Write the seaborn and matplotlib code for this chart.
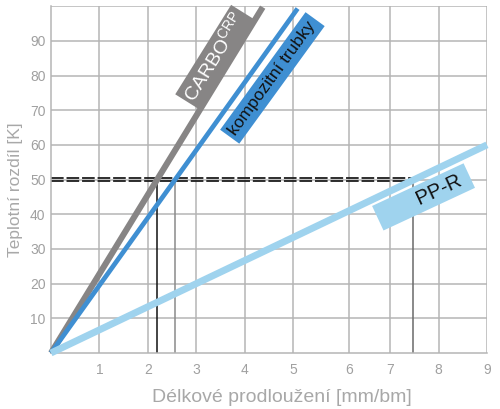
import matplotlib
matplotlib.use("Agg")
import matplotlib.pyplot as plt
import seaborn as sns
import pandas as pd

# ---- data ----
series_names = ["CARBO", "kompozitní trubky", "PP-R"]
x_start = [0.0, 0.0, 0.0]
y_start = [0.0, 0.0, 0.0]
x_end = [4.37, 5.09, 9.0]
y_end = [99.7, 99.3, 60.0]
ref_dT = [50.4, 49.6]
ref_dl = [2.19, 2.56, 7.48]
xtick_pos = [1, 2, 3, 4, 5, 6.15, 7, 8, 9]
xtick_labels = ["1", "2", "3", "4", "5", "6", "7", "8", "9"]
ytick_pos = [10, 20, 30, 40, 50, 60, 70, 80, 90, 100]
ytick_labels = ["10", "20", "30", "40", "50", "60", "70", "80", "90", ""]

colors = ["#878585", "#3f8fd2", "#9fd3ee"]
widths = [4.4, 3.4, 5.0]

rows = []
for n, xs, ys, xe, ye in zip(series_names, x_start, y_start, x_end, y_end):
    rows.append({"series": n, "x": xs, "y": ys})
    rows.append({"series": n, "x": xe, "y": ye})
df = pd.DataFrame(rows)

sns.set_theme(style="white")
plt.rcParams["font.family"] = ["Liberation Sans", "DejaVu Sans"]
plt.rcParams["mathtext.fontset"] = "custom"
plt.rcParams["mathtext.rm"] = "Liberation Sans"

fig = plt.figure(figsize=(5.0, 4.09), dpi=100)
ax = fig.add_axes([0.102, 0.137, 0.872, 0.848])

grid_c = "#b5b5b5"
ax.set_xlim(0, 9)
ax.set_ylim(0, 100)
ax.set_xticks(xtick_pos)
ax.set_xticklabels(xtick_labels)
ax.set_yticks(ytick_pos)
ax.set_yticklabels(ytick_labels)
ax.grid(True, color=grid_c, linewidth=1.1)
ax.set_axisbelow(True)
for s in ax.spines.values():
    s.set_visible(False)
ax.spines["left"].set_visible(True)
ax.spines["bottom"].set_visible(True)
ax.spines["left"].set_color(grid_c)
ax.spines["bottom"].set_color(grid_c)
ax.spines["left"].set_linewidth(1.1)
ax.spines["bottom"].set_linewidth(1.1)
ax.tick_params(axis="both", length=0, labelsize=10, colors="#a0a0a0")
ax.tick_params(axis="y", pad=4)
ax.tick_params(axis="x", pad=7)

# reference lines
for v in ref_dT:
    ax.plot([0, ref_dl[2]], [v, v], color="#1e1e1e", lw=1.3,
            dashes=(7, 1.6), zorder=2)
ax.plot([ref_dl[0], ref_dl[0]], [0, 50], color="#111111", lw=1.1, zorder=2)
ax.plot([ref_dl[1], ref_dl[1]], [0, 50], color="#8a8a8a", lw=1.1, zorder=2)
ax.plot([ref_dl[2], ref_dl[2]], [0, 50], color="#6a6a6a", lw=1.1, zorder=2)

sns.lineplot(data=df, x="x", y="y", hue="series", hue_order=series_names,
             palette=colors, legend=False, ax=ax, zorder=3)
for line, w in zip(ax.get_lines()[-3:], widths):
    line.set_linewidth(w)
    line.set_solid_capstyle("butt")
    line.set_clip_on(False)

ax.set_xlabel("Délkové prodloužení [mm/bm]", fontsize=14, color="#a8a8a8")
ax.set_ylabel("Teplotní rozdíl [K]", fontsize=12.5, color="#a8a8a8")
ax.xaxis.set_label_coords(0.53, -0.105)
ax.yaxis.set_label_coords(-0.064, 0.47)

# labels in boxes
ax.text(3.39, 85.3, r"CARBO$^{\mathregular{CRP}}$", rotation=58, rotation_mode="anchor",
        ha="center", va="center", fontsize=14, color="white", zorder=5,
        bbox=dict(boxstyle="square,pad=0.15", fc=colors[0], ec="none"))
ax.text(4.57, 79.3, "kompozitní trubky", rotation=54, rotation_mode="anchor",
        ha="center", va="center", fontsize=12.5, color="#111111", zorder=5,
        bbox=dict(boxstyle="square,pad=0.25", fc=colors[1], ec="none"))
ax.text(7.69, 45.0, "       PP-R ", rotation=25, rotation_mode="anchor",
        ha="center", va="center", fontsize=14.5, color="#111111", zorder=5,
        bbox=dict(boxstyle="square,pad=0.2", fc=colors[2], ec="none"))

fig.savefig("out.png", dpi=100)
